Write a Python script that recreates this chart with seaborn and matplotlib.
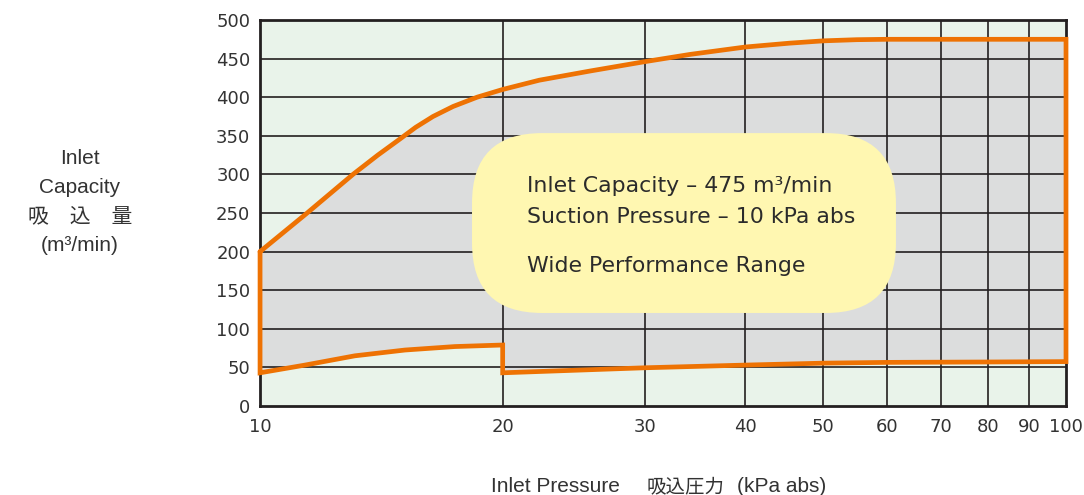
import numpy as np
import pandas as pd
import matplotlib
matplotlib.use("Agg")
import matplotlib.pyplot as plt
import seaborn as sns
from matplotlib.patches import FancyBboxPatch

# --- data ---
upper_p = [10, 11.44, 13.04, 14.0, 14.92, 15.6, 16.39, 17.36, 18.59, 20, 22.2,
           25.7, 30, 34.2, 40, 45.4, 50, 55, 60, 70, 80, 90, 100]
upper_q = [200, 250, 300, 325, 346, 361, 375, 388, 400, 410, 422,
           434, 446, 455.5, 465, 470, 473, 474.5, 475, 475, 475, 475, 475]
low1_p = [10, 11.37, 13.11, 15.13, 17.45, 20]
low1_q = [43, 53, 65, 72.5, 77, 79]
low2_p = [20, 30, 40, 50, 60, 80, 100]
low2_q = [43, 49.5, 53, 55.5, 56.5, 57, 57.5]

x_ticks = [10, 20, 30, 40, 50, 60, 70, 80, 90, 100]
y_ticks = [0, 50, 100, 150, 200, 250, 300, 350, 400, 450, 500]
box_lines = ["Inlet Capacity \u2013 475 m\u00b3/min",
             "Suction Pressure \u2013 10 kPa abs",
             "Wide Performance Range"]

ORANGE = "#ee7203"
GRID = "#231f20"
TXT = "#333333"
LABEL_FONT = ['Liberation Sans', 'Noto Sans CJK JP']

sns.set_theme(style="white")
plt.rcParams['font.family'] = ['DejaVu Sans', 'Noto Sans CJK JP']

# closed envelope: upper curve, then back along the lower curves
px = upper_p + low2_p[::-1] + low1_p[::-1] + upper_p[:1]
py = upper_q + low2_q[::-1] + low1_q[::-1] + upper_q[:1]
env = pd.DataFrame({"p": px, "q": py})

fig = plt.figure(figsize=(10.84, 4.95), dpi=100)
ax = fig.add_axes([0.2399, 0.1798, 0.9834 - 0.2399, 0.9596 - 0.1798])
ax.set_facecolor("#e9f3ea")
ax.set_xscale("log")

ax.fill(env["p"], env["q"], color="#dcdddd", zorder=1, lw=0)
for v in x_ticks[1:-1]:
    ax.axvline(v, color=GRID, lw=1.2, zorder=2)
for h in y_ticks[1:-1]:
    ax.axhline(h, color=GRID, lw=1.2, zorder=2)

sns.lineplot(data=env, x="p", y="q", sort=False, estimator=None, ax=ax,
             color=ORANGE, lw=3.4, zorder=9)
outline = ax.lines[-1]
outline.set_solid_joinstyle("miter")
outline.set_clip_on(False)

ax.set_xlim(10, 100)
ax.set_ylim(0, 500)
ax.set_xticks(x_ticks)
ax.set_xticklabels([str(t) for t in x_ticks])
ax.xaxis.set_minor_locator(matplotlib.ticker.NullLocator())
ax.set_yticks(y_ticks)
ax.set_yticklabels([str(t) for t in y_ticks])
ax.tick_params(axis="both", length=0, labelsize=13, colors=TXT)
ax.tick_params(axis="x", pad=9)
ax.tick_params(axis="y", pad=7)
for s in ax.spines.values():
    s.set_color(GRID)
    s.set_linewidth(2.0)
    s.set_zorder(6)
ax.set_xlabel("")
ax.set_ylabel("")

# rounded yellow note
box = FancyBboxPatch((0.263, 0.241), 0.526, 0.466,
                     boxstyle="round,pad=0,rounding_size=0.0868",
                     mutation_aspect=806 / 386,
                     transform=ax.transAxes, facecolor="#fff7b1",
                     edgecolor="none", zorder=7)
ax.add_patch(box)
for txt, yy in zip(box_lines, [0.555, 0.4733, 0.348]):
    ax.text(0.331, yy, txt, transform=ax.transAxes, fontsize=15.8,
            color="#2b2b2b", va="baseline", ha="left", zorder=8)

fig.text(80 / 1084, 1 - 202 / 495,
         "Inlet\nCapacity\n吸\u3000込\u3000量\n(m\u00b3/min)",
         ha="center", va="center", fontsize=15, color=TXT,
         linespacing=1.67, family=LABEL_FONT)

# x-axis title in three pieces, sharing one baseline
for txt, x0, fs in [("Inlet Pressure", 491, 15), ("吸込圧力", 647, 14),
                    ("(kPa abs)", 737, 15)]:
    fig.text(x0 / 1084, 1 - 492 / 495, txt, ha="left", va="baseline",
             fontsize=fs, color=TXT, family=LABEL_FONT)

fig.savefig("out.png", dpi=100)
